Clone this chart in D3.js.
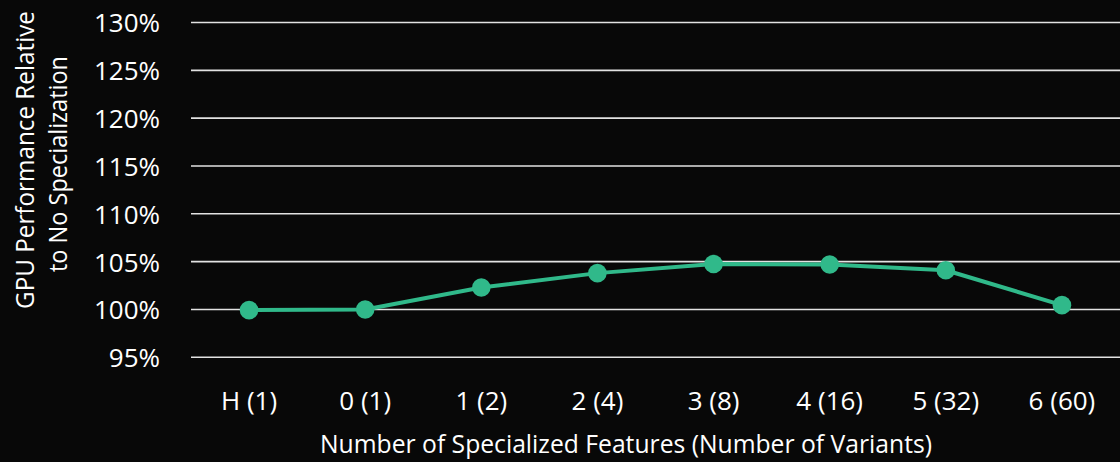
<!DOCTYPE html>
<html>
<head>
<meta charset="utf-8">
<script src="https://cdn.jsdelivr.net/npm/d3@7"></script>
<style>
  html, body { margin: 0; padding: 0; background: #080808; }
  svg { display: block; }
  text { font-family: "Open Sans", "Liberation Sans", sans-serif; fill: #ffffff; }
</style>
</head>
<body>
<svg id="chart" width="1120" height="462"></svg>
<script>
// Categories: number of specialized features (number of shader variants)
const categories = ["H (1)", "0 (1)", "1 (2)", "2 (4)", "3 (8)", "4 (16)", "5 (32)", "6 (60)"];
// GPU performance relative to the unspecialized build, in percent
const performance = [99.93, 100.0, 102.3, 103.8, 104.75, 104.7, 104.1, 100.45];
// Y axis ticks in percent
const yTicks = [95, 100, 105, 110, 115, 120, 125, 130];

const width = 1120, height = 462;
const margin = { top: 22.5, right: 0, bottom: 105, left: 191 };
const svg = d3.select("#chart");

const x = d3.scaleBand()
  .domain(categories)
  .range([margin.left, width - margin.right])
  .paddingInner(0).paddingOuter(0);

const y = d3.scaleLinear()
  .domain([95, 130])
  .range([height - margin.bottom + 0.3, margin.top]);

// Horizontal gridlines
svg.append("g")
  .selectAll("line")
  .data(yTicks)
  .join("line")
  .attr("x1", margin.left)
  .attr("x2", width - margin.right)
  .attr("y1", d => y(d))
  .attr("y2", d => y(d))
  .attr("stroke", "#e2e2e2")
  .attr("stroke-width", 1.6);

// Y axis labels
const yAxis = d3.axisLeft(y).tickValues(yTicks).tickFormat(d => d + "%").tickSize(0).tickPadding(0);
const gy = svg.append("g").attr("transform", "translate(160,0)").call(yAxis);
gy.select(".domain").remove();
gy.selectAll("text")
  .attr("fill", "#ffffff")
  .style("font-size", "26px")
  .attr("dy", "0.36em");

// X axis labels
const xAxis = d3.axisBottom(x).tickSize(0).tickPadding(0);
const gx = svg.append("g").attr("transform", "translate(0,401)").call(xAxis);
gx.select(".domain").remove();
gx.selectAll("text")
  .attr("fill", "#ffffff")
  .style("font-size", "26px")
  .attr("dy", "0.36em");

// Series line
const line = d3.line()
  .x((d, i) => x(categories[i]) + x.bandwidth() / 2)
  .y(d => y(d));

svg.append("path")
  .datum(performance)
  .attr("d", line)
  .attr("fill", "none")
  .attr("stroke", "#30b98a")
  .attr("stroke-width", 4)
  .attr("stroke-linejoin", "round");

// Markers
svg.append("g")
  .selectAll("circle")
  .data(performance)
  .join("circle")
  .attr("cx", (d, i) => x(categories[i]) + x.bandwidth() / 2)
  .attr("cy", d => y(d))
  .attr("r", 9.3)
  .attr("fill", "#30b98a");

// Axis titles
svg.append("text")
  .attr("x", 626)
  .attr("y", 443)
  .attr("text-anchor", "middle")
  .attr("dominant-baseline", "central")
  .attr("textLength", 612)
  .attr("lengthAdjust", "spacingAndGlyphs")
  .style("font-size", "25px")
  .text("Number of Specialized Features (Number of Variants)");

const yTitle = svg.append("text")
  .attr("transform", "translate(0,160) rotate(-90)")
  .attr("text-anchor", "middle")
  .style("font-size", "25px");
yTitle.append("tspan")
  .attr("x", 0).attr("y", 24)
  .attr("dominant-baseline", "central")
  .attr("textLength", 298)
  .attr("lengthAdjust", "spacingAndGlyphs")
  .text("GPU Performance Relative");
yTitle.append("tspan")
  .attr("x", -4).attr("y", 57)
  .attr("dominant-baseline", "central")
  .attr("textLength", 216)
  .attr("lengthAdjust", "spacingAndGlyphs")
  .text("to No Specialization");
</script>
</body>
</html>
